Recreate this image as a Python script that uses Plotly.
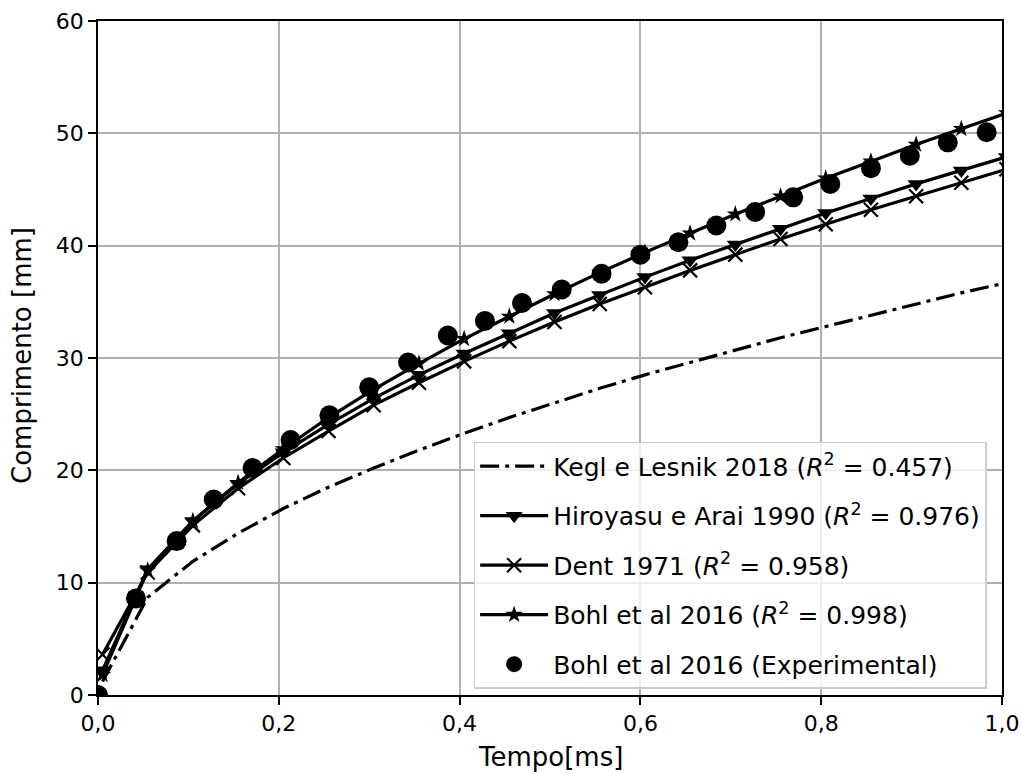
import plotly.graph_objects as go

# Model evaluation times [ms]
t_model = [0.005, 0.055, 0.105, 0.155, 0.205, 0.255, 0.305, 0.355, 0.405, 0.455,
           0.505, 0.555, 0.605, 0.655, 0.705, 0.755, 0.805, 0.855, 0.905, 0.955, 1.005]

kegl = [1.2, 8.7, 11.9, 14.4, 16.6, 18.5, 20.2, 21.8, 23.3, 24.7,
        26.0, 27.3, 28.5, 29.6, 30.7, 31.8, 32.8, 33.8, 34.8, 35.8, 36.7]
hiroyasu = [2.2, 11.2, 15.5, 18.8, 21.6, 24.1, 26.4, 28.5, 30.4, 32.2,
            34.0, 35.6, 37.2, 38.7, 40.1, 41.5, 42.9, 44.2, 45.5, 46.7, 47.9]
dent = [3.6, 10.9, 15.1, 18.4, 21.1, 23.5, 25.8, 27.8, 29.7, 31.5,
        33.2, 34.8, 36.3, 37.8, 39.2, 40.6, 41.9, 43.2, 44.4, 45.6, 46.8]
bohl = [1.8, 11.1, 15.5, 18.9, 21.9, 24.7, 27.2, 29.5, 31.7, 33.7,
        35.7, 37.6, 39.4, 41.1, 42.8, 44.4, 46.0, 47.5, 49.0, 50.4, 51.8]

# Experimental data
t_exp = [0.0, 0.042, 0.087, 0.128, 0.171, 0.213, 0.256, 0.300, 0.343, 0.387, 0.428, 0.469,
         0.513, 0.557, 0.600, 0.642, 0.684, 0.727, 0.769, 0.810, 0.855, 0.898, 0.940, 0.983]
l_exp = [0.0, 8.6, 13.7, 17.4, 20.2, 22.7, 24.9, 27.4, 29.6, 32.0, 33.3, 34.9,
         36.1, 37.5, 39.2, 40.3, 41.8, 43.0, 44.3, 45.5, 46.9, 48.0, 49.2, 50.1]

x_ticks = [0.0, 0.2, 0.4, 0.6, 0.8, 1.0]
x_ticktext = ["0,0", "0,2", "0,4", "0,6", "0,8", "1,0"]
y_ticks = [0, 10, 20, 30, 40, 50, 60]
x_title = "Tempo[ms]"
y_title = "Comprimento [mm]"

names = [
    "Kegl e Lesnik 2018 (<i>R</i><sup>2</sup> = 0.457)",
    "Hiroyasu e Arai 1990 (<i>R</i><sup>2</sup> = 0.976)",
    "Dent 1971 (<i>R</i><sup>2</sup> = 0.958)",
    "Bohl et al 2016 (<i>R</i><sup>2</sup> = 0.998)",
    "Bohl et al 2016 (Experimental)",
]

FONT = "DejaVu Sans"
LW = 3.2
TXT = "black"

fig = go.Figure()
fig.add_trace(go.Scatter(x=t_model, y=kegl, mode="lines", name=names[0], legendgroup="a",
                         line=dict(color="black", width=LW, dash="19px,6px,4px,6px")))
fig.add_trace(go.Scatter(x=t_model, y=hiroyasu, mode="lines+markers", name=names[1], legendgroup="b",
                         line=dict(color="black", width=LW),
                         marker=dict(symbol="triangle-down", size=15, color="black")))
fig.add_trace(go.Scatter(x=t_model, y=dent, mode="lines+markers", name=names[2], legendgroup="c",
                         line=dict(color="black", width=LW),
                         marker=dict(symbol="x-thin", size=14, color="black",
                                     line=dict(color="black", width=2.2))))
fig.add_trace(go.Scatter(x=t_model, y=bohl, mode="lines+markers", name=names[3], legendgroup="d",
                         line=dict(color="black", width=LW),
                         marker=dict(symbol="star", size=13, color="black")))
fig.add_trace(go.Scatter(x=t_exp, y=l_exp, mode="markers", name=names[4], legendgroup="e",
                         marker=dict(symbol="circle", size=20, color="black")))

axis_common = dict(
    showline=True, linecolor="black", linewidth=1.8, mirror=True,
    showgrid=True, gridcolor="#b0b0b0", gridwidth=1.8,
    ticks="outside", ticklen=8, tickwidth=1.8, tickcolor="black",
    zeroline=False, automargin=False,
    tickfont=dict(family=FONT, size=22, color=TXT),
)

fig.update_layout(
    width=1022, height=774,
    margin=dict(l=98, r=20, t=21, b=79),
    paper_bgcolor="white", plot_bgcolor="white",
    font=dict(family=FONT, size=22, color=TXT),
    xaxis=dict(range=[0, 1], tickvals=x_ticks, ticktext=x_ticktext, **axis_common),
    yaxis=dict(range=[0, 60], tickvals=y_ticks, **axis_common),
    legend=dict(x=0.983, y=0.009, xanchor="right", yanchor="bottom",
                bgcolor="rgba(255,255,255,0.8)", bordercolor="#cccccc", borderwidth=1.5,
                font=dict(family=FONT, size=25, color=TXT),
                tracegroupgap=14, itemwidth=68),
    showlegend=True,
    hovermode=False,
    annotations=[
        dict(text=x_title, xref="paper", yref="paper", x=0.5, y=-0.092,
             xanchor="center", yanchor="middle", showarrow=False,
             font=dict(family=FONT, size=26, color=TXT)),
        dict(text=y_title, xref="paper", yref="paper", x=-0.0841, y=0.5045,
             xanchor="center", yanchor="middle", showarrow=False, textangle=-90,
             font=dict(family=FONT, size=26, color=TXT)),
    ],
)

fig.write_html("out.html",
               config={"displayModeBar": False},
               post_script="document.body.style.margin='0';document.body.style.overflow='hidden';")
